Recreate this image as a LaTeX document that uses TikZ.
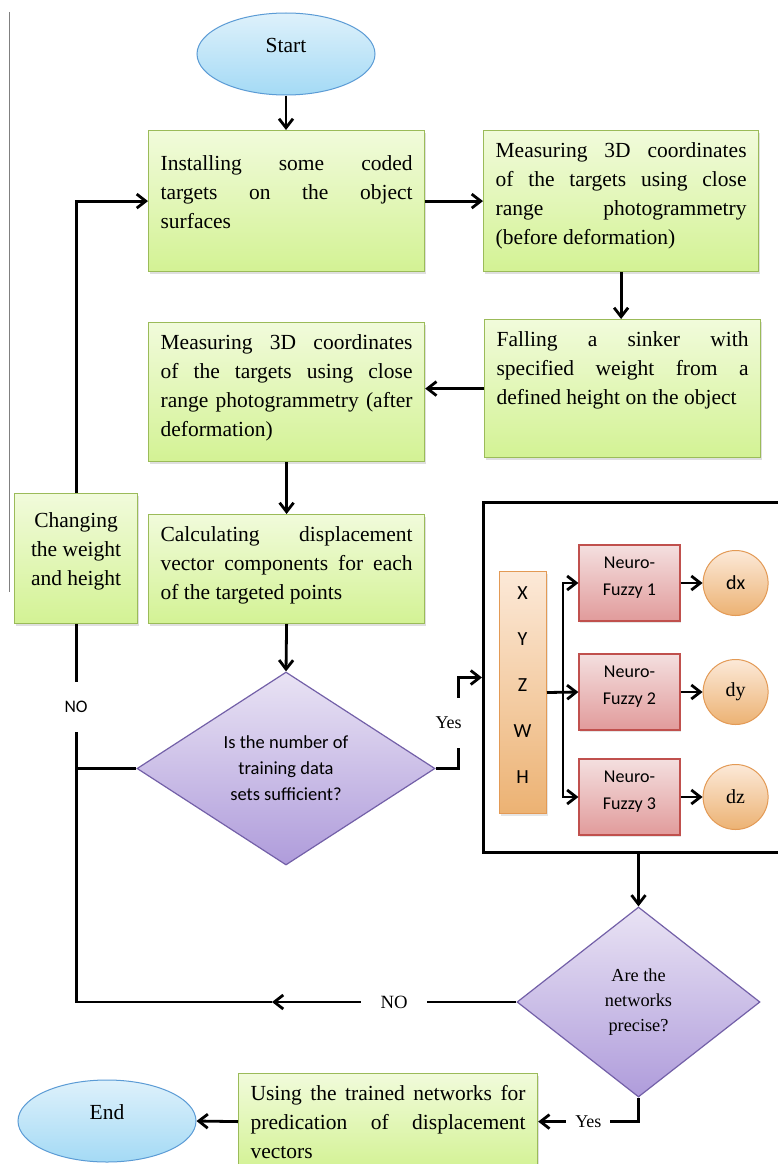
\documentclass[tikz,border=0pt]{standalone}
\usepackage{fontspec}
\setmainfont{Liberation Serif}
\newfontfamily\calibri{Carlito}
\usepackage{xcolor}
\usepackage{tikz}
\usetikzlibrary{arrows.meta,positioning,shapes.geometric,shadows}
\definecolor{leaf}{HTML}{9BBB59}
\definecolor{leaftop}{HTML}{F1FBDB}
\definecolor{leafbot}{HTML}{D3F294}
\definecolor{sky}{HTML}{5B9BD5}
\definecolor{skytop}{HTML}{DEF1FB}
\definecolor{skybot}{HTML}{A4DAF5}
\definecolor{lilac}{HTML}{7360A8}
\definecolor{lilactop}{HTML}{E9E3F4}
\definecolor{lilacbot}{HTML}{AF9CDB}
\definecolor{rosy}{HTML}{C0504D}
\definecolor{rosytop}{HTML}{F4DFDF}
\definecolor{rosybot}{HTML}{E19B9B}
\definecolor{amber}{HTML}{E39A55}
\definecolor{ambertop}{HTML}{FCE9D8}
\definecolor{amberbot}{HTML}{ECB273}
\newcommand{\steptext}[4][7pt]{\parbox[c][#2][t]{#3}{\tolerance=10000\hbadness=10000%
  \vspace*{#1}\leavevmode\strut\ignorespaces#4}}
\newcommand{\liftstack}[2][0pt]{\raisebox{#1}[\height][\depth]{\begin{tabular}{@{}c@{}}#2\end{tabular}}}
\tikzset{
  stepbox/.style={
    rectangle, draw=leaf, line width=1.2pt,
    top color=leaftop, bottom color=leafbot,
    inner xsep=12pt, inner ysep=0pt, anchor=north west,
    font=\fontsize{21.5}{29}\selectfont,
    drop shadow={opacity=0.25, shadow xshift=1.5pt, shadow yshift=-2.5pt}
  },
  termbox/.style={
    ellipse, draw=sky, line width=1pt,
    top color=skytop, bottom color=skybot,
    minimum width=178pt, minimum height=82pt, inner sep=0pt,
    font=\fontsize{21.5}{26}\selectfont
  },
  decision/.style={
    diamond, draw=lilac, line width=1.2pt,
    top color=lilactop, bottom color=lilacbot,
    inner sep=0pt, align=center
  },
  inputbar/.style={
    rectangle, draw=amber, line width=1pt,
    top color=ambertop, bottom color=amberbot,
    minimum width=47pt, minimum height=242pt, inner sep=0pt,
    anchor=north west,
    drop shadow={opacity=0.2, shadow xshift=1pt, shadow yshift=-2pt}
  },
  nfbox/.style={
    rectangle, draw=rosy, line width=1.2pt,
    top color=rosytop, bottom color=rosybot,
    minimum width=101pt, minimum height=76pt, inner sep=0pt,
    font=\calibri\fontsize{18}{27}\selectfont,
    drop shadow={opacity=0.2, shadow xshift=1pt, shadow yshift=-2pt}
  },
  outcircle/.style={
    circle, draw=amber, line width=1pt,
    top color=ambertop, bottom color=amberbot,
    minimum size=65pt, inner sep=0pt,
    font=\fontsize{20}{24}\selectfont
  },
  framebox/.style={
    rectangle, draw=black, line width=3pt, anchor=north west,
    minimum width=330pt, minimum height=350pt, inner sep=0pt
  },
  flowline/.style={line width=2.8pt, color=black},
  flowarrow/.style={flowline, -{Straight Barb[length=9pt,width=14pt]}},
  gaplabel/.style={fill=white, inner sep=3pt, font=\fontsize{18}{20}\selectfont},
}
\begin{document}
\begin{tikzpicture}[x=1pt, y=-1pt]
    \path[fill=white, use as bounding box] (0,0) rectangle (777,1164);
    \draw[gray, line width=0.8pt] (9,12) -- (9,592);

    \node[termbox] (start) at (286,54) {\liftstack[7pt]{Start}};
    \node[stepbox] (install) at (148,130) {\steptext[20pt]{141pt}{252pt}{%
        Installing some coded\linebreak targets on the object\linebreak surfaces}};
    \node[stepbox] (before) at (483,130) {\steptext{141pt}{251pt}{%
        Measuring 3D coordinates\linebreak of the targets using close\linebreak
        range photogrammetry\linebreak (before deformation)}};
    \node[stepbox] (sinker) at (484,319) {\steptext{138pt}{252pt}{%
        Falling a sinker with\linebreak specified weight from a\linebreak
        defined height on the object}};
    \node[stepbox] (after) at (148,322) {\steptext{139pt}{252pt}{%
        Measuring 3D coordinates\linebreak of the targets using close\linebreak
        range photogrammetry (after\linebreak deformation)}};
    \node[stepbox] (calc) at (148,514) {\steptext{109pt}{252pt}{%
        Calculating displacement\linebreak vector components for each\linebreak
        of the targeted points}};
    \node[stepbox] (change) at (14,493) {\steptext[14pt]{130pt}{99pt}{%
        \centering Changing\\the weight\\and height}};
    \node[decision, minimum width=298pt, minimum height=193pt,
          font=\calibri\fontsize{18.5}{26}\selectfont] (enough) at (286,768.5)
        {Is the number of\\training data\\sets sufficient?};

    \node[framebox] (netbox) at (482,501) {};
    \node[inputbar] (inputs) at (499,571) {};
    \foreach \v [count=\i] in {X,Y,Z,W,H}
        \node[font=\calibri\fontsize{20}{22}\selectfont] (in\i) at (522.5,547+46*\i) {\v};
    \foreach \i/\yy/\lbl in {1/583/{\calibri dx},2/692/dy,3/797/dz} {
        \node[nfbox] (nf\i) at (629.5,\yy) {\liftstack[6pt]{Neuro-\\Fuzzy \i}};
        \node[outcircle, right=22pt of nf\i] (out\i) {\lbl};
        \draw[flowarrow] (nf\i) -- (out\i);
    }
    \draw[flowarrow] (inputs.east) -- (nf2.west);
    \draw[flowarrow] (inputs.east) ++(16,0) coordinate (fork) |- (nf1.west);
    \draw[flowarrow] (fork) |- (nf3.west);

    \node[decision, minimum width=243pt, minimum height=190pt,
          font=\fontsize{18.3}{25}\selectfont] (precise) at (638.5,1002)
        {Are the\\networks\\precise?};
    \node[stepbox] (apply) at (238,1073) {\steptext{96pt}{275pt}{%
        Using the trained networks for\linebreak predication of displacement\linebreak vectors}};
    \node[termbox] (finish) at (107,1121) {\liftstack[7pt]{End}};
    \coordinate (noturn) at (272,1002);

    \draw[flowarrow] (start.south) -- (start.south |- install.north);
    \draw[flowarrow] (install.east) -- (before.west);
    \draw[flowarrow] (before.south) -- (before.south |- sinker.north);
    \draw[flowarrow] (sinker.west) -- (sinker.west -| after.east);
    \draw[flowarrow] (after.south) -- (calc.north);
    \draw[flowarrow] (calc.south) -- (enough.north);
    \draw[flowarrow] (enough.east) -- ++(23,0) |- (netbox.west)
        node[gaplabel, pos=0.25, xshift=-10pt, minimum height=50pt] {Yes};
    \draw[flowline] (enough.west) -- (enough.west -| change.south);
    \draw[flowarrow] (change.north) |- (install.west);
    \draw[flowarrow] (precise.north |- netbox.south) -- (precise.north);
    \draw[flowarrow] (precise.west) -- node[gaplabel, font=\fontsize{18.7}{20}\selectfont,
        minimum width=66pt] {NO} (noturn);
    \draw[flowline] (noturn) -| (change.south)
        node[gaplabel, pos=0.89, minimum height=50pt,
             font=\calibri\fontsize{17.6}{20}\selectfont] {NO};
    \draw[flowarrow] (precise.south) |- (apply.east)
        node[gaplabel, pos=0.75, minimum width=44pt] {Yes};
    \draw[flowarrow] (apply.west) -- (finish.east);
\end{tikzpicture}
\end{document}
